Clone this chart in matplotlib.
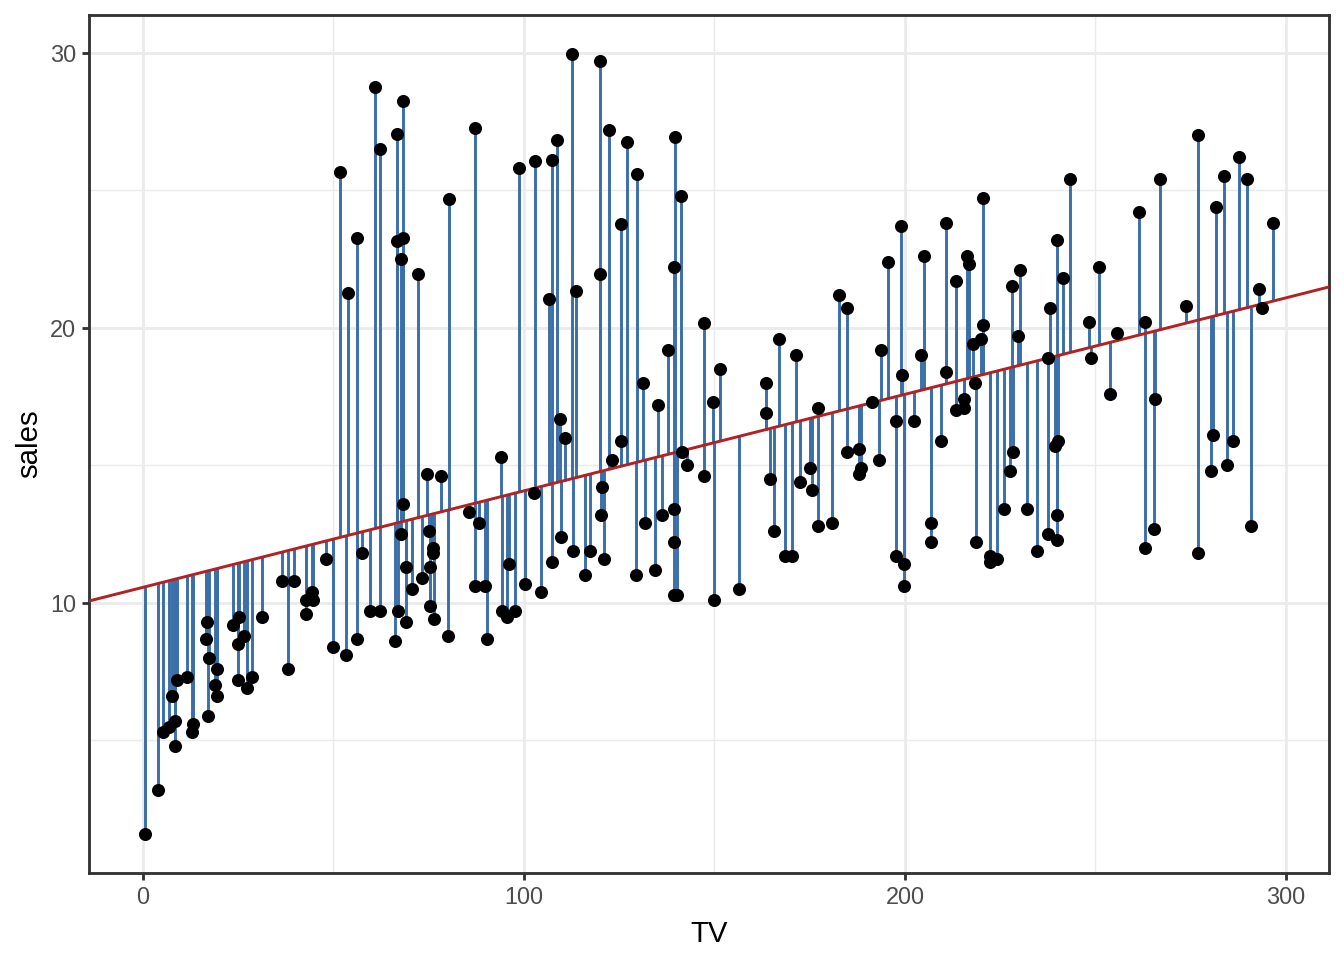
import numpy as np
import matplotlib
matplotlib.use("Agg")
import matplotlib.pyplot as plt
from matplotlib.ticker import MultipleLocator

tv = [0.7, 4.1, 5.4, 7.0, 7.8, 8.4, 8.6, 8.9, 11.6, 13.0, 13.2, 16.7, 17.0, 17.1, 17.5,
      19.1, 19.4, 19.6, 23.6, 25.0, 25.0, 25.4, 26.7, 27.5, 28.8, 31.4, 36.6, 38.1, 39.6,
      42.9, 42.9, 44.5, 44.7, 48.2, 49.9, 51.7, 53.4, 53.9, 56.2, 56.3, 57.6, 59.6, 60.9,
      62.4, 62.4, 66.1, 66.6, 66.8, 66.9, 67.8, 67.8, 68.3, 68.3, 68.4, 69.0, 69.0, 70.6,
      72.2, 73.4, 74.7, 75.1, 75.3, 75.5, 76.2, 76.3, 76.4, 78.2, 80.2, 80.3, 85.6, 87.1,
      87.2, 88.2, 89.7, 90.4, 93.9, 94.3, 95.6, 96.1, 97.6, 98.8, 100.4, 102.6, 102.9, 104.6,
      106.6, 107.3, 107.4, 108.8, 109.6, 109.8, 110.7, 112.7, 112.9, 113.6, 116.0,
      117.3, 120.1, 120.1, 120.2, 120.6, 121.0, 122.3, 123.2, 125.6, 125.6, 127.2, 129.5,
      129.7, 131.2, 131.7, 134.4, 135.2, 136.3, 137.9, 139.3, 139.3, 139.3, 139.5, 140.3,
      139.8, 141.3, 141.5, 142.8, 147.2, 147.2, 149.7, 149.8, 151.6, 156.5, 163.5, 163.5,
      164.5, 165.6, 166.9, 168.6, 170.4, 171.4, 172.6, 175.2, 175.6, 177.1, 177.1, 180.9,
      182.6, 184.9, 184.8, 187.9, 187.9, 188.5, 191.4, 193.7, 193.3, 195.5, 197.7, 197.7,
      199.1, 199.2, 199.8, 199.8, 202.5, 204.2, 205.1, 206.8, 206.8, 209.5, 210.8, 210.8,
      213.5, 213.5, 215.4, 215.4, 216.4, 216.9, 217.8, 218.5, 218.6, 219.9, 220.6, 220.4,
      222.4, 222.4, 224.1, 225.9, 227.5, 228.5, 228.1, 230.3, 229.8, 232.0, 234.6, 237.5,
      237.5, 238.1, 239.4, 240.3, 240.0, 240.0, 239.9, 241.6, 243.4, 248.4, 248.9, 251.0,
      253.9, 255.6, 261.5, 262.9, 263.0, 265.7, 265.4, 267.0, 273.8, 277.0, 276.9, 280.3,
      280.8, 281.6, 283.8, 284.5, 286.2, 287.7, 289.9, 290.8, 293.0, 293.8, 296.5]

sales = [1.6, 3.2, 5.3, 5.5, 6.6, 5.7, 4.8, 7.2, 7.3, 5.3, 5.6, 8.7, 9.3, 5.9, 8.0,
         7.0, 6.6, 7.6, 9.2, 8.5, 7.2, 9.5, 8.8, 6.9, 7.3, 9.5, 10.8, 7.6, 10.8,
         10.1, 9.6, 10.4, 10.1, 11.6, 8.4, 25.65, 8.1, 21.26, 8.7, 23.26, 11.8, 9.7, 28.74,
         9.7, 26.5, 8.6, 27.03, 23.16, 9.7, 12.5, 22.5, 28.24, 23.25, 13.6, 9.3, 11.3, 10.5,
         21.96, 10.9, 14.7, 12.6, 11.3, 9.9, 12.0, 11.8, 9.4, 14.6, 8.8, 24.67, 13.3, 27.26,
         10.6, 12.9, 10.6, 8.7, 15.3, 9.7, 9.5, 11.4, 9.7, 25.79, 10.7, 14.0, 26.05, 10.4,
         21.05, 26.11, 11.5, 26.81, 16.7, 12.4, 16.0, 29.95, 11.9, 21.35, 11.0,
         11.9, 29.71, 21.95, 13.2, 14.2, 11.6, 27.2, 15.2, 23.77, 15.9, 26.74, 11.0,
         25.6, 18.0, 12.9, 11.2, 17.2, 13.2, 19.2, 22.2, 13.4, 12.2, 10.3, 10.3,
         26.93, 24.8, 15.5, 15.0, 20.17, 14.6, 17.3, 10.1, 18.5, 10.5, 18.0, 16.9,
         14.5, 12.6, 19.6, 11.7, 11.7, 19.0, 14.4, 14.9, 14.1, 17.1, 12.8, 12.9,
         21.2, 20.7, 15.5, 15.6, 14.7, 14.9, 17.3, 19.2, 15.2, 22.4, 16.6, 11.7,
         23.7, 18.3, 11.4, 10.6, 16.6, 19.0, 22.6, 12.9, 12.2, 15.9, 18.4, 23.8,
         21.7, 17.0, 17.4, 17.1, 22.6, 22.3, 19.4, 18.0, 12.2, 19.6, 20.1, 24.7,
         11.7, 11.5, 11.6, 13.4, 14.8, 15.5, 21.5, 22.1, 19.7, 13.4, 11.9, 12.5,
         18.9, 20.7, 15.7, 15.9, 23.2, 13.2, 12.3, 21.8, 25.4, 20.2, 18.9, 22.2,
         17.6, 19.8, 24.2, 20.2, 12.0, 17.4, 12.7, 25.4, 20.8, 27.0, 11.8, 14.8,
         16.1, 24.4, 25.5, 15.0, 15.9, 26.2, 25.4, 12.8, 21.4, 20.7, 23.8]

x = np.array(tv)
y = np.array(sales)
slope, intercept = np.polyfit(x, y, 1)
yhat = intercept + slope * x

plt.rcParams['font.family'] = ['Liberation Sans', 'DejaVu Sans']

fig = plt.figure(figsize=(7, 5), dpi=192)
ax = fig.add_axes([89/1344, 1 - 873/960, (1329-89)/1344, (873-15)/960])

xmin, xmax = x.min(), x.max()
ymin, ymax = y.min(), y.max()
dx = (xmax - xmin) * 0.05
dy = (ymax - ymin) * 0.05
ax.set_xlim(xmin - dx, xmax + dx)
ax.set_ylim(ymin - dy, ymax + dy)

ax.set_facecolor('white')
ax.xaxis.set_major_locator(MultipleLocator(100))
ax.xaxis.set_minor_locator(MultipleLocator(50))
ax.yaxis.set_major_locator(MultipleLocator(10))
ax.yaxis.set_minor_locator(MultipleLocator(5))
ax.grid(which='major', color='#EBEBEB', linewidth=1.07)
ax.grid(which='minor', color='#EBEBEB', linewidth=0.53)
ax.set_axisbelow(True)
for s in ax.spines.values():
    s.set_color('#333333')
    s.set_linewidth(1.07)
ax.tick_params(which='major', length=2.75, width=1.07, color='#333333',
               labelsize=8.8, labelcolor='#4D4D4D', pad=2.2)
ax.tick_params(which='minor', length=0)

ax.vlines(x, y, yhat, color='#3B6FA9', linewidth=1.1, zorder=2)
xs = np.array(ax.get_xlim())
ax.plot(xs, intercept + slope * xs, color='#B22222', linewidth=1.1, zorder=3)
ax.scatter(x, y, s=24, color='black', zorder=4, linewidths=0)
ax.set_xlim(xs)

ax.set_xlabel('TV', fontsize=11, labelpad=4)
ax.set_ylabel('sales', fontsize=11, labelpad=2.5)

fig.savefig('out.png', dpi=192)
